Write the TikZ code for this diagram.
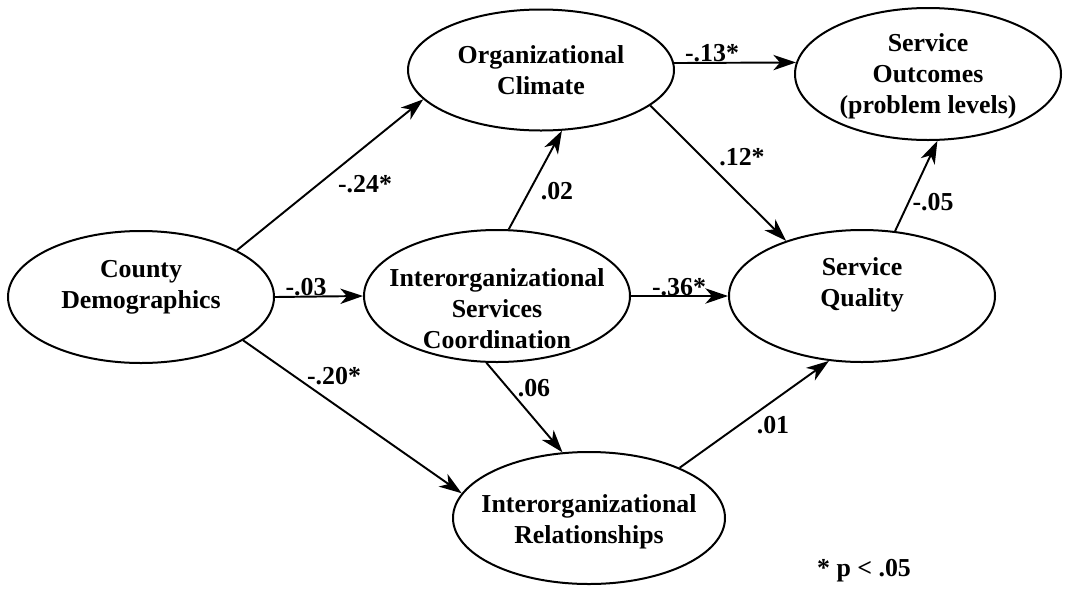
\documentclass[tikz,border=0pt]{standalone}
\usepackage{fontspec}
\setmainfont{Liberation Serif}
\usetikzlibrary{arrows.meta, shapes.geometric}

\tikzset{
  latent/.style={ellipse, draw, line width=1.5pt, minimum width=199.5pt, minimum height=99pt, inner sep=0pt},
  vartext/.style={align=center, font=\bfseries\fontsize{19.4}{23.25}\selectfont},
  effect/.style={line width=1.45pt, -{Stealth[length=17pt,width=11.5pt,inset=5pt]}},
  coef/.style={font=\bfseries\fontsize{19.4}{23.25}\selectfont, inner sep=0pt},
}

\begin{document}
\begin{tikzpicture}[x=0.75pt,y=-0.75pt]
  \path[use as bounding box, fill=white] (0,0) rectangle (1067,593);

  % latent variables
  \node[latent, label={[vartext,name=cdtext,yshift=7.6pt]center:County\\Demographics}] (cd) at (141,297) {};
  \node[latent, minimum height=90.75pt, label={[vartext,name=octext]center:Organizational\\Climate}] (oc) at (541,70) {};
  \node[latent, label={[vartext,name=isctext,yshift=-9.75pt]center:Interorganizational\\Services\\Coordination}] (isc) at (497,296) {};
  \node[latent, minimum width=204pt, label={[vartext,name=irtext,yshift=-3pt]center:Interorganizational\\Relationships}] (ir) at (589,518) {};
  \node[latent, label={[vartext,name=sqtext,yshift=8.4pt]center:Service\\Quality}] (sq) at (862,296) {};
  \node[latent, label={[vartext,name=sotext,yshift=-2pt]center:Service\\Outcomes\\(problem levels)}] (so) at (928,74) {};

  % paths
  \draw[effect] (cd.26) -- (oc.194);
  \draw[effect] (cd.0) -- (isc.180);
  \draw[effect] (cd.-23) -- (ir.169);
  \draw[effect] (isc.80) -- (oc.289);
  \draw[effect] (oc.3) -- (so.175);
  \draw[effect] (oc.342) -- (sq.144);
  \draw[effect] (isc.0) -- (sq.180);
  \draw[effect] (sq.63) -- (so.278);
  \draw[effect] (isc.261) -- (ir.112);
  \draw[effect] (ir.29) -- (sq.243);

  % coefficients
  \node[coef] (b24) at (365,184) {-.24*};
  \node[coef] (b03) at (306,287) {-.03};
  \node[coef] (b20) at (334,376) {-.20*};
  \node[coef] (b02) at (557,191) {.02};
  \node[coef] (b13) at (712,53) {-.13*};
  \node[coef] (b12) at (742,157) {.12*};
  \node[coef] (b36) at (679,287) {-.36*};
  \node[coef] (b05) at (933,202) {-.05};
  \node[coef] (b06) at (534,388) {.06};
  \node[coef] (b01) at (773,425) {.01};
  \node[coef] (sig) at (864,571) {* p < .05};
\end{tikzpicture}
\end{document}
